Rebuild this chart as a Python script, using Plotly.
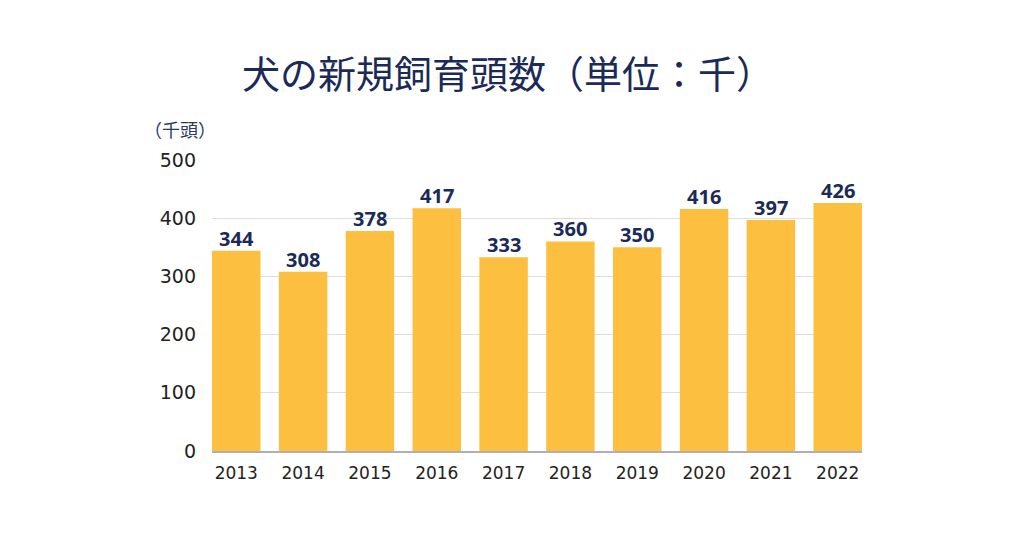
import plotly.graph_objects as go

years = ["2013", "2014", "2015", "2016", "2017", "2018", "2019", "2020", "2021", "2022"]
values = [344, 308, 378, 417, 333, 360, 350, 416, 397, 426]
title_text = "犬の新規飼育頭数（単位：千）"
unit_text = "（千頭）"

navy = "#1b2a56"
fig = go.Figure(go.Bar(
    x=years, y=values,
    marker=dict(color="#FDBF40", line=dict(width=0)),
    hoverinfo="x+y",
))

label_annotations = [
    dict(x=i, y=v, xref="x", yref="y", text=str(v), showarrow=False,
         yanchor="bottom", xanchor="center", yshift=-3,
         font=dict(family="Noto Sans, Open Sans, sans-serif", size=20, color=navy, weight="bold"))
    for i, v in enumerate(values)
]

fig.update_layout(
    width=1024, height=538,
    paper_bgcolor="white", plot_bgcolor="white",
    margin=dict(l=204, r=170, t=152, b=95),
    bargap=0.275,
    showlegend=False,
    font=dict(family="Noto Sans CJK JP, Noto Sans, sans-serif", color="#222"),
    title=dict(text=title_text, x=0.5 - 12 / 1024, xanchor="center", y=1 - 67 / 538, yanchor="middle",
               font=dict(family="Noto Sans CJK JP", size=38, color=navy)),
    xaxis=dict(type="category", range=[-0.363, 9.363], showgrid=False, showline=True,
               linecolor="#b0b0b0", linewidth=1.5,
               tickfont=dict(size=17, color="#222", family="DejaVu Sans, sans-serif"), ticks="",
               ticklabelstandoff=6),
    yaxis=dict(range=[0, 500], tickvals=[0, 100, 200, 300, 400, 500],
               showgrid=True, gridcolor="#dddddd", gridwidth=1.2, zeroline=False,
               tickfont=dict(size=19, color="#222", family="DejaVu Sans, sans-serif"), ticks="",
               ticklabelstandoff=15),
    annotations=label_annotations + [
        dict(text=unit_text, xref="paper", yref="paper", x=(172 - 204) / 650, y=1 + (152 - 121) / 291,
             xanchor="center", yanchor="middle", showarrow=False,
             font=dict(family="Noto Sans CJK JP", size=18, color="#2a3a60"))],
)

fig.write_html("out.html")
